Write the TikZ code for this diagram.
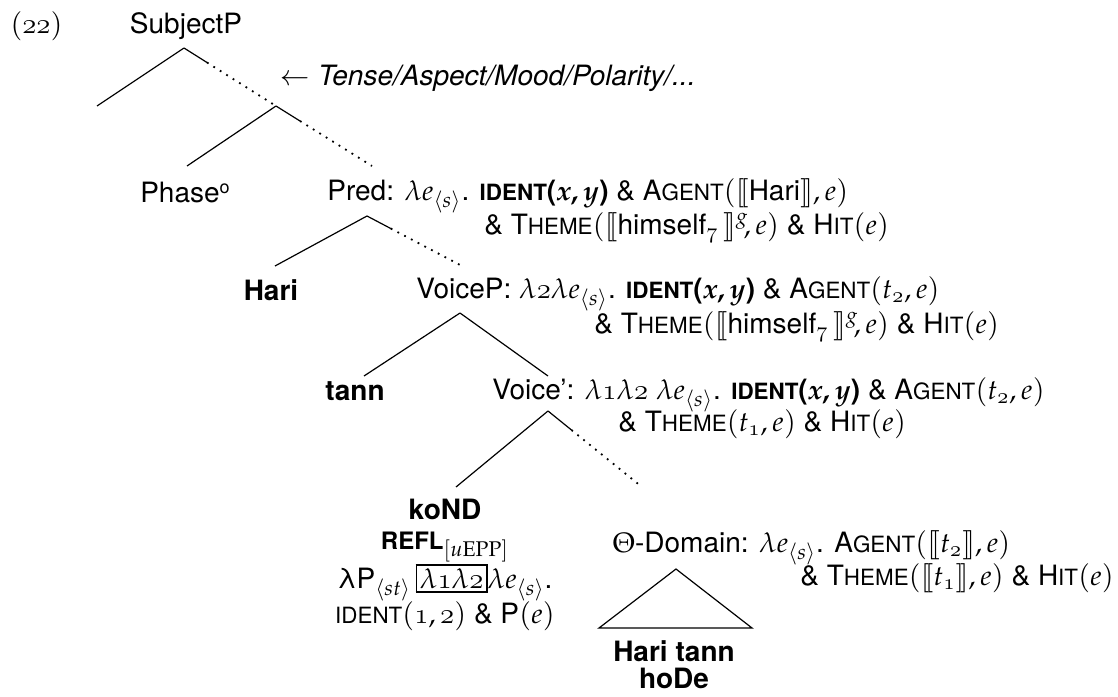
\documentclass[tikz,border=0pt]{standalone}
\usepackage{mathpazo}
\usepackage{bm}
\usepackage[no-math]{fontspec}
\setmainfont{TeX Gyre Heros}
\usetikzlibrary{calc}
\DeclareMathAlphabet{\mathosf}{OML}{cmm}{m}{it}
\newcommand\sca[1]{{\fontsize{11.2}{13}\selectfont #1}}
\newcommand\osn[1]{\mathosf{#1}}
\newcommand\lb{[\![}
\newcommand\rb{]\!]}
\newcommand\identb{\textbf{\sca{IDENT}(}$\bm{x,y}$\textbf{)}}
\begin{document}
\begin{tikzpicture}[x=0.5pt,y=-0.5pt,
  br/.style={line width=0.6pt},
  dt/.style={line width=0.9pt, dash pattern=on 0.9pt off 2.9pt},
  lab/.style={inner sep=0pt, anchor=base},
  labw/.style={inner sep=0pt, anchor=base west},
  font=\fontsize{14}{16}\selectfont]
\useasboundingbox (0,0) rectangle (1118,696);

% labels
\node[labw] (num) at (10,33) {$(\osn{22})$};
\node[lab] (subj) at (186,33) {SubjectP};
\node[labw] (tam) at (280,85) {$\leftarrow$ \textit{Tense/Aspect/Mood/Polarity/...}};
\node[lab] (phase) at (185,202) {Phase{\fontsize{9}{9}\selectfont\raisebox{0.85ex}{o}}};
\node[labw] (pred) at (327,200) {Pred: $\lambda e_{\langle s\rangle}$. \identb{} \& A\sca{GENT}$(\lb$Hari$\rb,e)$};
\node[labw] (pred2) at (484,234) {\& T\sca{HEME}$(\lb$himself$_{\osn{7}}\,\rb^{g}\!,e)$ \& H\sca{IT}$(e)$};
\node[lab] (hari) at (271,300) {\textbf{Hari}};
\node[labw] (voicep) at (416,298) {VoiceP: $\lambda\osn{2}\lambda e_{\langle s\rangle}$. \identb{} \& A\sca{GENT}$(t_{\osn{2}},e)$};
\node[labw] (voicep2) at (594,333) {\& T\sca{HEME}$(\lb$himself$_{\osn{7}}\,\rb^{g}\!,e)$ \& H\sca{IT}$(e)$};
\node[lab] (tann) at (355,400) {\textbf{tann}};
\node[labw] (voicebar) at (492,399) {Voice': $\lambda\osn{1}\lambda\osn{2}\ \lambda e_{\langle s\rangle}$. \identb{} \& A\sca{GENT}$(t_{\osn{2}},e)$};
\node[labw] (voicebar2) at (618,431) {\& T\sca{HEME}$(t_{\osn{1}},e)$ \& H\sca{IT}$(e)$};
\node[lab] (kond) at (445,519) {\textbf{koND}};
\node[lab] (refl) at (445,549) {\textbf{{\fontsize{12}{14}\selectfont REFL}}$_{[u\mathrm{EPP}]}$};
\node[lab] (lamP) at (445,588) {λP$_{\langle st\rangle}$\,\setlength{\fboxsep}{1.2pt}\setlength{\fboxrule}{0.9pt}\fbox{$\lambda\osn{1}\lambda\osn{2}$}$\lambda e_{\langle s\rangle}$.};
\node[lab] (identr) at (445,623) {\sca{IDENT}$(\osn{1},\osn{2})$ \& P$(e)$};
\node[labw] (theta) at (612,552) {$\Theta$-Domain: $\lambda e_{\langle s\rangle}$. A\sca{GENT}$(\lb t_{\osn{2}}\rb,e)$};
\node[labw] (theta2) at (800,585) {\& T\sca{HEME}$(\lb t_{\osn{1}}\rb,e)$ \& H\sca{IT}$(e)$};
\node[lab] (hariT) at (674,661) {\textbf{Hari tann}};
\node[lab] (hode) at (674,688) {\textbf{hoDe}};

% tree points
\coordinate (A) at (184,48);
\coordinate (Al) at (97,106);
\coordinate (B) at (276,106);
\coordinate (Bl) at (187,166);
\coordinate (Br) at (372,166);
\coordinate (C) at (367,216);
\coordinate (Cl) at (275,266);
\coordinate (Cr) at (462,266);
\coordinate (D) at (460,313);
\coordinate (Dl) at (364,376);
\coordinate (Dr) at (548,376);
\coordinate (E) at (548,411);
\coordinate (El) at (456,487);
\coordinate (Er) at (642,487);
\coordinate (T) at (676,569);
\coordinate (Tl) at (599,628);
\coordinate (Tr) at (752,628);

% branches
\draw[br] (A) -- (Al);
\draw[br] (A) -- ($(A)!0.25!(B)$);
\draw[dt] ($(A)!0.25!(B)$) -- (B);
\draw[br] (B) -- (Bl);
\draw[br] (B) -- ($(B)!0.25!(Br)$);
\draw[dt] ($(B)!0.25!(Br)$) -- (Br);
\draw[br] (C) -- (Cl);
\draw[br] (C) -- ($(C)!0.25!(Cr)$);
\draw[dt] ($(C)!0.25!(Cr)$) -- (Cr);
\draw[br] (D) -- (Dl);
\draw[br] (D) -- (Dr);
\draw[br] (E) -- (El);
\draw[br] (E) -- ($(E)!0.25!(Er)$);
\draw[dt] ($(E)!0.25!(Er)$) -- (Er);
\draw[br] (T) -- (Tl) -- (Tr) -- cycle;
\end{tikzpicture}
\end{document}
